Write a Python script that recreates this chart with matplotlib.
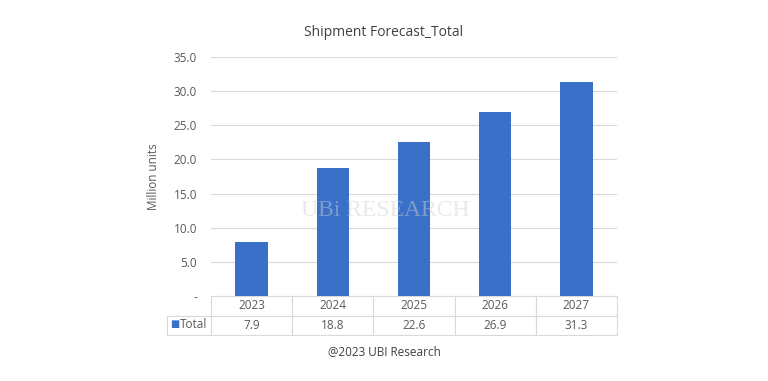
import matplotlib
matplotlib.use("Agg")
import matplotlib.pyplot as plt

years = ["2023", "2024", "2025", "2026", "2027"]
totals = [7.9, 18.8, 22.6, 26.9, 31.3]
yticks = [0, 5, 10, 15, 20, 25, 30, 35]
ytick_labels = ["-", "5.0", "10.0", "15.0", "20.0", "25.0", "30.0", "35.0"]

plt.rcParams['font.family'] = ['Open Sans', 'DejaVu Sans']
text_color = '#595959'
grid_color = '#d9d9d9'
bar_color = '#3a70c8'

fig = plt.figure(figsize=(7.68, 3.81), dpi=100)
W, H = 768, 381
left, right, top, bottom = 211, 617, 57, 296
ax = fig.add_axes([left / W, 1 - bottom / H, (right - left) / W, (bottom - top) / H])

x = range(len(years))
ax.bar(x, totals, width=0.4, color=bar_color, zorder=3)
ax.set_xlim(-0.5, len(years) - 0.5)
ax.set_ylim(0, 35)
ax.set_yticks(yticks)
ax.set_yticklabels(ytick_labels, color=text_color, fontsize=8.5)
ax.tick_params(axis='y', length=0, pad=10)
ax.set_xticks([])
ax.grid(axis='y', color=grid_color, linewidth=0.8, zorder=0)
for s in ax.spines.values():
    s.set_visible(False)
ax.set_ylabel("Million units", color=text_color, fontsize=8.5, labelpad=10)

# data table
row_w = 44
col_w = (right - left) / len(years)
total_w = row_w + col_w * len(years)
cell_text = [[""] + years, [""] + [f"{v:.1f}" for v in totals]]
bbox_h = (335 - bottom) / (bottom - top)
tbl = ax.table(cellText=cell_text, cellLoc='center',
               colWidths=[row_w / total_w] + [col_w / total_w] * len(years),
               bbox=[-row_w / (right - left), -bbox_h, total_w / (right - left), bbox_h])
tbl.auto_set_font_size(False)
tbl.set_fontsize(8.5)
for (r, c), cell in tbl.get_celld().items():
    cell.set_edgecolor(grid_color)
    cell.set_linewidth(0.8)
    cell.get_text().set_color(text_color)
    if r == 0 and c == 0:
        cell.visible_edges = ''

fig.text(170 / W, 1 - 325 / H, "■", color=bar_color, fontsize=7, va='center', ha='left')
fig.text(180 / W, 1 - 325 / H, "Total", color=text_color, fontsize=8.5, va='center', ha='left')

# watermark
fig.text(385 / W, 1 - 211 / H, "UBi RESEARCH", color='#d0d0d0', alpha=0.45,
         fontsize=17, family='Liberation Serif', ha='center', va='center', zorder=0)

fig.text(384 / W, 1 - 33 / H, "Shipment Forecast_Total", color='#404040', fontsize=10,
         ha='center', va='center')
fig.text(384 / W, 1 - 352 / H, "@2023 UBI Research", color='#404040', fontsize=8.5,
         ha='center', va='center')

fig.savefig("out.png", dpi=100, facecolor='white')
